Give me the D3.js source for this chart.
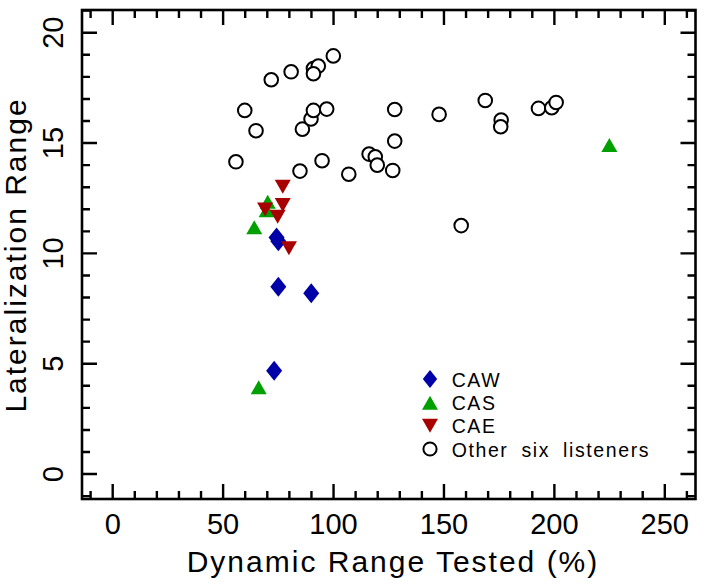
<!DOCTYPE html>
<html><head><meta charset="utf-8">
<script src="https://cdn.jsdelivr.net/npm/d3@7"></script>
<style>body{margin:0;background:#fff}svg{display:block}</style>
</head><body>
<svg id="c" width="704" height="585"></svg>
<script>
// ---- data ----
const xTicks = [0, 50, 100, 150, 200, 250];
const yTicks = [0, 5, 10, 15, 20];
const xMinorTicks = [-10, 10, 20, 30, 40, 60, 70, 80, 90, 110, 120, 130, 140,
                     160, 170, 180, 190, 210, 220, 230, 240, 260];
const yMinorTicks = [-1, 1, 2, 3, 4, 6, 7, 8, 9, 11, 12, 13, 14, 16, 17, 18, 19, 21];
const xLabel = "Dynamic Range Tested (%)";
const yLabel = "Lateralization Range";
const legendLabels = ["CAW", "CAS", "CAE", "Other six listeners"];

const otherX = [55.8, 59.8, 64.9, 71.8, 80.8, 90.9, 93.1, 90.9, 99.9, 84.8,
                85.9, 89.8, 90.9, 96.9, 94.8, 106.9, 116.1, 118.9, 119.8, 126.8,
                127.7, 127.7, 147.8, 157.8, 168.7, 175.9, 175.7, 192.8, 198.8, 200.8];
const otherY = [14.15, 16.48, 15.56, 17.87, 18.23, 18.38, 18.49, 18.14, 18.95, 13.73,
                15.63, 16.09, 16.48, 16.54, 14.2, 13.59, 14.5, 14.38, 14.0, 13.76,
                15.09, 16.52, 16.3, 11.26, 16.93, 16.04, 15.74, 16.57, 16.6, 16.84];

const cawX = [74.2, 75.0, 75.0, 89.9, 73.1];
const cawY = [10.72, 10.55, 8.49, 8.19, 4.68];

const casX = [70.2, 69.7, 64.1, 66.1, 224.9];
const casY = [12.34, 11.96, 11.18, 3.93, 14.91];

const caeX = [77.0, 77.0, 69.0, 74.7, 79.8];
const caeY = [13.02, 12.19, 11.99, 11.66, 10.23];

// ---- layout ----
const L = 82, R = 695.5, T = 10, B = 499;
const FONT = "'Liberation Sans', Arial, sans-serif";
const blue = "#0000a8", green = "#00a000", red = "#a80000";
const MAJ = 15, MIN = 8;

const svg = d3.select("#c");
const x = d3.scaleLinear().domain([-13.9, 263.9]).range([L, R]);
const y = d3.scaleLinear().domain([-1.13, 21.03]).range([B, T]);

function xTickPath(vals, len) {
  return vals.map(v => `M${x(v)},${B}V${B - len}M${x(v)},${T}V${T + len}`).join("");
}
function yTickPath(vals, len) {
  return vals.map(v => `M${L},${y(v)}H${L + len}M${R},${y(v)}H${R - len}`).join("");
}
const tg = svg.append("g").attr("fill", "none").attr("stroke", "#000").attr("stroke-width", 2.4);
tg.append("path").attr("d", xTickPath(xMinorTicks, MIN));
tg.append("path").attr("d", xTickPath(xTicks, MAJ));
tg.append("path").attr("d", yTickPath(yMinorTicks, MIN));
tg.append("path").attr("d", yTickPath(yTicks, MAJ));

// tick labels
svg.append("g").selectAll("text").data(xTicks).join("text")
  .attr("x", d => x(d)).attr("y", 534).attr("text-anchor", "middle")
  .attr("font-family", FONT).attr("font-size", 29).text(d => d);
svg.append("g").selectAll("text").data(yTicks).join("text")
  .attr("transform", d => `translate(63.3,${y(d)}) rotate(-90)`)
  .attr("text-anchor", "middle")
  .attr("font-family", FONT).attr("font-size", 29).text(d => d);

// frame
svg.append("rect").attr("x", L).attr("y", T).attr("width", R - L).attr("height", B - T)
  .attr("fill", "none").attr("stroke", "#000").attr("stroke-width", 2.6);

// axis titles
svg.append("text").attr("x", 393).attr("y", 571.7).attr("text-anchor", "middle")
  .attr("font-family", FONT).attr("font-size", 30).attr("letter-spacing", 2)
  .text(xLabel);
svg.append("text").attr("transform", "translate(25.5,255) rotate(-90)")
  .attr("text-anchor", "middle")
  .attr("font-family", FONT).attr("font-size", 30).attr("letter-spacing", 2)
  .text(yLabel);

// marker shapes
const diamond = "M0,-10L8,0L0,10L-8,0Z";
const triUp = "M0,-7L8,7L-8,7Z";
const triDown = "M0,7L8,-7L-8,-7Z";

const plot = svg.append("g");
plot.selectAll("circle.o").data(d3.zip(otherX, otherY)).join("circle")
  .attr("class", "o").attr("cx", d => x(d[0])).attr("cy", d => y(d[1])).attr("r", 6.8)
  .attr("fill", "#fff").attr("stroke", "#000").attr("stroke-width", 2);

function shapes(cls, xs, ys, path, color) {
  plot.selectAll("path." + cls).data(d3.zip(xs, ys)).join("path")
    .attr("class", cls).attr("d", path).attr("fill", color)
    .attr("transform", d => `translate(${x(d[0])},${y(d[1])})`);
}
shapes("caw", cawX, cawY, diamond, blue);
shapes("cas", casX, casY, triUp, green);
shapes("cae", caeX, caeY, triDown, red);

// legend
const legY = [379, 402.7, 425.7, 449];
const lg = svg.append("g");
lg.append("path").attr("d", diamond).attr("fill", blue).attr("transform", `translate(430,${legY[0]}) scale(0.9)`);
lg.append("path").attr("d", triUp).attr("fill", green).attr("transform", `translate(430,${legY[1]})`);
lg.append("path").attr("d", triDown).attr("fill", red).attr("transform", `translate(430,${legY[2]})`);
lg.append("circle").attr("cx", 430).attr("cy", legY[3]).attr("r", 6.6)
  .attr("fill", "#fff").attr("stroke", "#000").attr("stroke-width", 2);
lg.selectAll("text").data(legendLabels).join("text")
  .attr("x", 451.7).attr("y", (d, i) => legY[i] + 7.5)
  .attr("font-family", FONT).attr("font-size", 19.5).attr("letter-spacing", 1.6)
  .attr("word-spacing", 6)
  .text(d => d);
</script>
</body></html>
